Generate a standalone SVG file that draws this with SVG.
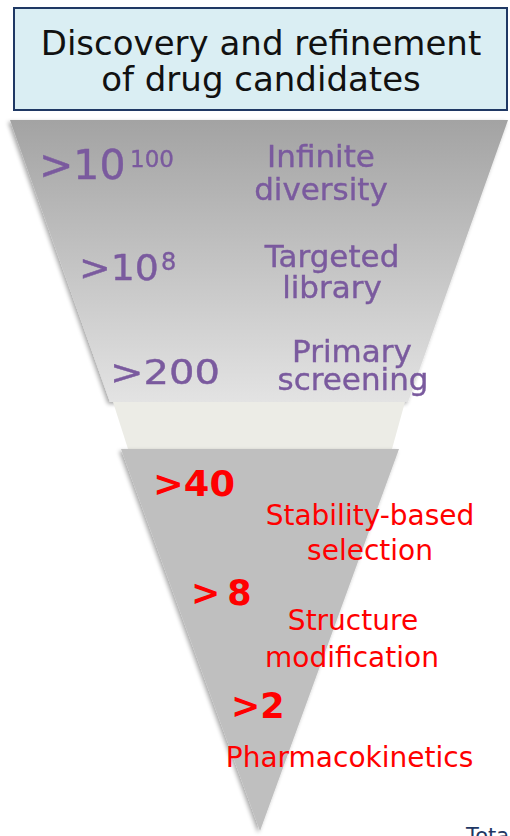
<svg xmlns="http://www.w3.org/2000/svg" width="510" height="836" viewBox="0 0 510 836">
  <style>
    .title { font-family: "DejaVu Sans", Verdana, sans-serif; font-size: 34px; fill: #111111; text-anchor: middle; }
    .stage { font-family: "DejaVu Sans", Verdana, sans-serif; font-size: 31px; fill: #7a5a9e; text-anchor: middle; }
    .count { font-family: "DejaVu Sans", Verdana, sans-serif; fill: #7a5a9e; }
    .rcount { font-family: "DejaVu Sans", Verdana, sans-serif; font-size: 35px; font-weight: bold; fill: #ff0000; }
    .rstage { font-family: "DejaVu Sans", Verdana, sans-serif; font-size: 28px; fill: #ff0000; text-anchor: middle; }
    .foot { font-family: "DejaVu Sans", Verdana, sans-serif; font-size: 21px; fill: #1f3864; }
  </style>
  <defs>
    <linearGradient id="topFill" x1="0" y1="0" x2="0" y2="1">
      <stop offset="0" stop-color="#a3a3a3"/>
      <stop offset="1" stop-color="#e3e3e3"/>
    </linearGradient>
    <filter id="shade" x="-10%" y="-10%" width="120%" height="120%">
      <feGaussianBlur in="SourceAlpha" stdDeviation="2"/>
      <feOffset dx="-2" dy="2" result="b"/>
      <feComponentTransfer><feFuncA type="linear" slope="0.35"/></feComponentTransfer>
      <feMerge><feMergeNode/><feMergeNode in="SourceGraphic"/></feMerge>
    </filter>
    <filter id="soft"><feGaussianBlur stdDeviation="0.5"/></filter>
  </defs>

  <rect width="510" height="836" fill="#ffffff"/>

  <!-- heading box -->
  <g id="title">
    <rect x="14" y="8" width="493" height="102" fill="#daeef3" stroke="#1f3864" stroke-width="2"/>
    <text class="title" x="261" y="55">Discovery and refinement</text>
    <text class="title" x="261" y="91">of drug candidates</text>
  </g>

  <!-- wide upper funnel: library screening stages -->
  <g id="funnel-upper">
    <polygon points="10,120 508,120 408,402 110,402" fill="url(#topFill)" filter="url(#shade)"/>
    <g filter="url(#soft)" stroke="#7a5a9e" stroke-width="0.4">
      <text class="count" x="39" y="179" font-size="41">&gt;10<tspan x="130" y="167" font-size="23">100</tspan></text>
      <text class="stage" x="321" y="167">Infinite</text>
      <text class="stage" x="321" y="200">diversity</text>

      <text class="count" x="79" y="280" font-size="36" textLength="80" lengthAdjust="spacingAndGlyphs">&gt;10</text>
      <text class="count" x="161" y="270" font-size="24">8</text>
      <text class="stage" x="332" y="267">Targeted</text>
      <text class="stage" x="332" y="298">library</text>

      <text class="count" x="110" y="384" font-size="34" textLength="110" lengthAdjust="spacingAndGlyphs">&gt;200</text>
      <text class="stage" x="352" y="362">Primary</text>
      <text class="stage" x="353" y="390">screening</text>
    </g>
  </g>

  <!-- neck between the two funnels -->
  <g id="funnel-neck">
    <polygon points="113,402 405,402 392,449 128,449" fill="#ececE6"/>
  </g>

  <!-- narrow lower funnel: optimisation stages -->
  <g id="funnel-lower">
    <polygon points="121,449 399,449 260,831" fill="#bfbfbf" filter="url(#shade)"/>
    <text class="rcount" x="153" y="496" textLength="82" lengthAdjust="spacingAndGlyphs">&gt;40</text>
    <text class="rstage" x="370" y="525">Stability-based</text>
    <text class="rstage" x="370" y="560">selection</text>

    <text class="rcount" x="191" y="605">&gt;<tspan dx="7">8</tspan></text>
    <text class="rstage" x="353" y="630">Structure</text>
    <text class="rstage" x="352" y="667">modification</text>

    <text class="rcount" x="231" y="718">&gt;2</text>
    <text class="rstage" x="349.5" y="767" font-size="27">Pharmacokinetics</text>
  </g>

  <g id="footer">
    <text class="foot" x="466" y="843">Tota</text>
  </g>
</svg>
